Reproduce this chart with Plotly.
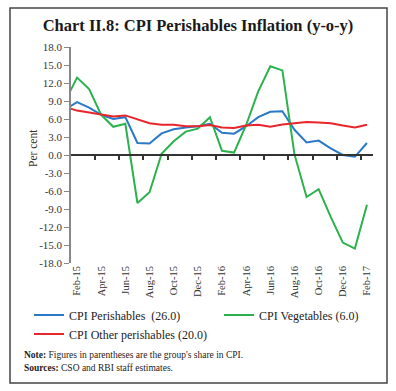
import plotly.graph_objects as go

months = ["Jan-15", "Feb-15", "Mar-15", "Apr-15", "May-15", "Jun-15", "Jul-15", "Aug-15",
          "Sep-15", "Oct-15", "Nov-15", "Dec-15", "Jan-16", "Feb-16", "Mar-16", "Apr-16",
          "May-16", "Jun-16", "Jul-16", "Aug-16", "Sep-16", "Oct-16", "Nov-16", "Dec-16",
          "Jan-17", "Feb-17"]
perishables = [7.6, 8.8, 7.9, 6.7, 6.0, 6.3, 2.0, 1.9, 3.6, 4.3, 4.6, 4.8,
               5.2, 3.7, 3.55, 4.8, 6.3, 7.2, 7.3, 4.2, 2.1, 2.4, 1.1, 0.0,
               -0.3, 2.0]
vegetables = [8.9, 12.9, 11.0, 6.7, 4.7, 5.2, -8.0, -6.2, 0.2, 2.3, 3.9, 4.4,
              6.3, 0.7, 0.4, 5.0, 10.6, 14.8, 14.1, 0.1, -7.0, -5.7, -10.3, -14.6,
              -15.6, -8.3]
other_perishables = [8.0, 7.4, 7.1, 6.7, 6.4, 6.6, 5.9, 5.3, 5.05, 5.05, 4.8, 4.8,
                     5.0, 4.6, 4.5, 4.9, 5.05, 4.7, 5.1, 5.3, 5.5, 5.4, 5.3, 4.9,
                     4.6, 5.05]
series_names = ["CPI Perishables  (26.0)", "CPI Vegetables (6.0)", "CPI Other perishables (20.0)"]
x_tick_labels = months[1::2]
y_tick_vals = [-18, -15, -12, -9, -6, -3, 0, 3, 6, 9, 12, 15, 18]
y_tick_text = ["-18.0", "-15.0", "-12.0", "-9.0", "-6.0", "-3.0", "0.0",
               "3.0", "6.0", "9.0", "12.0", "15.0", "18.0"]

FONT = "Liberation Serif"
W, H = 396, 391
ML, MR, MT, MB = 71, 23, 47, 128
pw, ph = W - ML - MR, H - MT - MB

def px_x(p):
    return (p - ML) / pw

def px_y(p):
    return (H - MB - p) / ph

fig = go.Figure()
fig.add_trace(go.Scatter(x=months, y=perishables, mode="lines", name=series_names[0],
                         line=dict(color="#2a78c8", width=2), legend="legend"))
fig.add_trace(go.Scatter(x=months, y=vegetables, mode="lines", name=series_names[1],
                         line=dict(color="#2bb24c", width=2), legend="legend2"))
fig.add_trace(go.Scatter(x=months, y=other_perishables, mode="lines", name=series_names[2],
                         line=dict(color="#e8252b", width=2), legend="legend3"))
# empty helper trace so the zero-line axis is rendered
fig.add_trace(go.Scatter(x=[], y=[], xaxis="x2", showlegend=False, hoverinfo="skip"))

n = len(months)
boundaries = [i + 0.5 for i in range(2, n - 1, 2)]

leg_common = dict(orientation="h", xanchor="left", yanchor="middle",
                  font=dict(size=12, color="#222"), bgcolor="rgba(0,0,0,0)",
                  itemwidth=30)

fig.update_layout(
    template="none",
    width=W, height=H,
    margin=dict(l=ML, r=MR, t=MT, b=MB, autoexpand=False),
    paper_bgcolor="white", plot_bgcolor="white",
    font=dict(family=FONT, size=11, color="#222"),
    title=dict(text="<b>Chart II.8: CPI Perishables Inflation (y-o-y)</b>",
               x=0.5, xanchor="center", y=1 - 25 / H, yanchor="middle",
               font=dict(family=FONT, size=16.5, color="#1a1a1a")),
    xaxis=dict(type="category", categoryorder="array", categoryarray=months,
               range=[0.5, n - 0.5], tickmode="array", tickvals=x_tick_labels,
               ticktext=x_tick_labels, tickangle=-90, ticks="", showline=False,
               showgrid=False, zeroline=False, automargin=False,
               tickfont=dict(size=10.5, color="#333")),
    xaxis2=dict(overlaying="x", anchor="free", position=0.5, type="linear",
                range=[0.5, n - 0.5], tickmode="array", tickvals=boundaries,
                ticks="outside", ticklen=4, tickwidth=1.5, tickcolor="#333",
                showticklabels=False, showline=True, linecolor="#333", linewidth=1.5,
                showgrid=False, zeroline=False, side="bottom", automargin=False),
    yaxis=dict(range=[-18, 18], tickmode="array", tickvals=y_tick_vals, ticktext=y_tick_text,
               ticks="outside", ticklen=5, tickwidth=1.2, tickcolor="#888",
               showline=True, linecolor="#888", linewidth=1.5, showgrid=False,
               zeroline=False, automargin=False, tickfont=dict(size=11, color="#333")),
    legend=dict(x=px_x(29), y=px_y(315), **leg_common),
    legend2=dict(x=px_x(219), y=px_y(315), **leg_common),
    legend3=dict(x=px_x(29), y=px_y(334), **leg_common),
    showlegend=True,
)

fig.add_annotation(xref="paper", yref="paper", x=px_x(33), y=px_y(148), xanchor="center",
                   yanchor="middle", showarrow=False, textangle=-90,
                   text="Per cent", font=dict(size=11.5, color="#333"))
fig.add_annotation(xref="paper", yref="paper", x=px_x(22), y=px_y(355), xanchor="left",
                   yanchor="middle", showarrow=False, align="left",
                   text="<b>Note:</b> Figures in parentheses are the group's share in CPI.",
                   font=dict(size=9.5, color="#222"))
fig.add_annotation(xref="paper", yref="paper", x=px_x(22), y=px_y(368), xanchor="left",
                   yanchor="middle", showarrow=False, align="left",
                   text="<b>Sources:</b> CSO and RBI staff estimates.",
                   font=dict(size=9.5, color="#222"))
fig.add_shape(type="rect", xref="paper", yref="paper",
              x0=px_x(10), x1=px_x(387), y0=px_y(383), y1=px_y(8),
              line=dict(color="#444", width=1.5), fillcolor="rgba(0,0,0,0)", layer="below")

fig.write_html("out.html", config={"displayModeBar": False},
               post_script="document.body.style.margin='0px';")
